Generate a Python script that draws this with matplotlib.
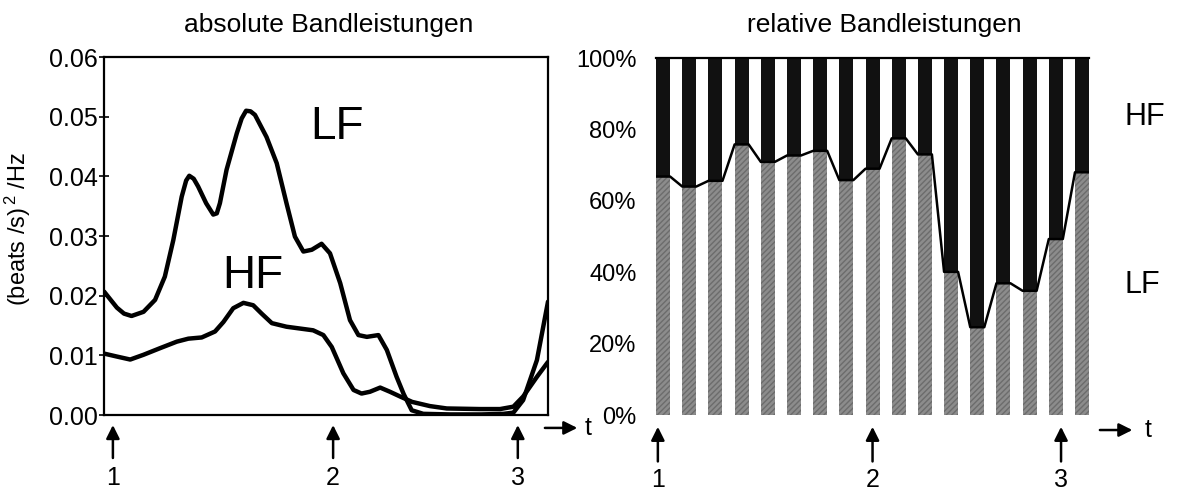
import matplotlib
matplotlib.use("Agg")
import matplotlib.pyplot as plt
import numpy as np

plt.rcParams['font.family'] = ['Liberation Sans', 'DejaVu Sans']
plt.rcParams['mathtext.default'] = 'regular'

# ----
# Left panel: absolute band power
# ----
lf_t = [0, 1.5, 2.9, 4.5, 6.2, 8.9, 11.5, 13.7, 15.6, 17.5, 18.5, 19.2, 20.2, 21.2,
        23.0, 24.6, 25.4, 26.1, 27.6, 29.9, 31.0, 32.0, 33.0, 34.0, 36.6, 38.9,
        41.1, 43.0, 44.9, 46.8, 49.0, 50.9, 53.2, 55.4, 57.3, 59.2, 61.8, 63.7,
        65.9, 67.5, 69.3, 71.9, 78.0, 85.0, 90.0, 92.2, 94.4, 97.5, 100]
lf_val = [0.0207, 0.0193, 0.0180, 0.0170, 0.0166, 0.0173, 0.0193, 0.0232, 0.0293,
          0.0366, 0.0393, 0.0401, 0.0396, 0.0383, 0.0355, 0.0336, 0.0338, 0.0355,
          0.0411, 0.0472, 0.0497, 0.0510, 0.0509, 0.0503, 0.0466, 0.0422, 0.0355,
          0.0299, 0.0274, 0.0277, 0.0287, 0.0271, 0.0221, 0.0159, 0.0134, 0.0131,
          0.0134, 0.0109, 0.0064, 0.0035, 0.0008, 0.0002, 0.0001, 0.0001, 0.0002,
          0.0004, 0.0025, 0.0092, 0.0190]

hf_t = [0, 2.9, 5.9, 8.9, 12.6, 16.4, 19.0, 22.0, 25.0, 26.9, 29.1, 31.4, 33.6,
        35.5, 37.8, 41.1, 44.1, 47.1, 49.4, 51.3, 53.9, 56.2, 58.0, 59.9, 62.2,
        64.4, 66.7, 69.4, 73.4, 77.2, 84.7, 89.2, 92.2, 94.4, 97.5, 100]
hf_val = [0.0103, 0.0098, 0.0093, 0.0101, 0.0112, 0.0123, 0.0128, 0.0130, 0.0140,
          0.0156, 0.0179, 0.0188, 0.0184, 0.0170, 0.0154, 0.0148, 0.0145, 0.0142,
          0.0134, 0.0114, 0.0070, 0.0042, 0.0036, 0.0039, 0.0046, 0.0039, 0.0031,
          0.0022, 0.0015, 0.0011, 0.0010, 0.0010, 0.0014, 0.0031, 0.0064, 0.0089]

left_events = [2.0, 51.6, 93.2]
left_event_labels = ["1", "2", "3"]
left_yticks = [0.00, 0.01, 0.02, 0.03, 0.04, 0.05, 0.06]

# ----
# Right panel: relative band power (LF share in %, HF is the rest)
# ----
lf_pct = [66.8, 64.0, 65.6, 75.8, 70.9, 72.7, 74.0, 65.8, 69.0, 77.5, 73.0,
          40.1, 24.6, 36.9, 34.8, 49.3, 68.0]
right_events = [-0.2, 8.0, 15.2]
right_event_labels = ["1", "2", "3"]
right_yticks = [0, 20, 40, 60, 80, 100]

fig = plt.figure(figsize=(11.78, 4.90), dpi=100)
ax1 = fig.add_axes([0.0883, 0.153, 0.3769, 0.7306])
ax2 = fig.add_axes([0.5569, 0.153, 0.3676, 0.7286])

# ---- left
for tt, vv in [(lf_t, lf_val), (hf_t, hf_val)]:
    ax1.plot(tt, vv, color="black", lw=3.2, solid_joinstyle="round", solid_capstyle="round")
ax1.set_xlim(0, 100)
ax1.set_ylim(0, 0.06)
ax1.set_yticks(left_yticks)
ax1.set_yticklabels([f"{v:.2f}" for v in left_yticks], fontsize=18)
ax1.tick_params(axis="y", direction="inout", length=7, width=1.2, pad=1)
ax1.set_xticks([])
for s in ax1.spines.values():
    s.set_linewidth(1.6)
ax1.set_ylabel("(beats /s)$^{\\,2}$ /Hz", fontsize=17)
ax1.yaxis.set_label_coords(-0.16, 0.52)
ax1.text(52.5, 0.0483, "LF", fontsize=33, ha="center", va="center",
         family=["Liberation Sans Narrow", "Liberation Sans"])
ax1.text(33.6, 0.0233, "HF", fontsize=33, ha="center", va="center",
         family=["Liberation Sans Narrow", "Liberation Sans"])

# ---- right
x = np.arange(len(lf_pct))
bw = 0.535
hf_pct = [100 - v for v in lf_pct]
ax2.bar(x, lf_pct, width=bw, facecolor="#8c8c8c", edgecolor="#6c6c6c", lw=0, hatch="//////")
ax2.bar(x, hf_pct, width=bw, bottom=lf_pct, color="#111111", lw=0)
line_x, line_y = [], []
for xi, v in zip(x, lf_pct):
    line_x += [xi - bw / 2, xi + bw / 2]
    line_y += [v, v]
ax2.plot(line_x, line_y, color="black", lw=1.8)
ax2.set_xlim(-0.27, len(lf_pct) - 1 + 0.27)
ax2.set_ylim(0, 100)
ax2.set_yticks(right_yticks)
ax2.set_yticklabels([f"{v}%" for v in right_yticks], fontsize=17)
ax2.tick_params(axis="y", length=0, pad=14)
ax2.set_xticks([])
for k in ["left", "right", "bottom"]:
    ax2.spines[k].set_visible(False)
ax2.spines["top"].set_linewidth(1.6)

# ---- event arrows and numbers below both panels
def events(ax, xs, labels, head_y, tail_y, num_y):
    for xv, lab in zip(xs, labels):
        ax.annotate("", xy=(xv, head_y), xytext=(xv, tail_y),
                    xycoords=("data", "axes fraction"), textcoords=("data", "axes fraction"),
                    arrowprops=dict(arrowstyle="-|>", color="black", lw=1.8, mutation_scale=20,
                                    shrinkA=0, shrinkB=0), annotation_clip=False)
        ax.text(xv, num_y, lab, transform=ax.get_xaxis_transform(), ha="center",
                va="center", fontsize=18, clip_on=False)

events(ax1, left_events, left_event_labels, -0.028, -0.12, -0.176)
events(ax2, right_events, right_event_labels, -0.033, -0.13, -0.182)

# time arrows
for ax, x0, x1, xt, yy in [(ax1, 0.993, 1.066, 1.09, -0.036), (ax2, 1.025, 1.10, 1.136, -0.042)]:
    ax.annotate("", xy=(x1, yy), xytext=(x0, yy), xycoords="axes fraction",
                arrowprops=dict(arrowstyle="-|>", color="black", lw=1.8, mutation_scale=20,
                                shrinkA=0, shrinkB=0), annotation_clip=False)
    ax.text(xt, yy, "t", transform=ax.transAxes, ha="center", va="center", fontsize=18)

# titles and band labels of the right panel
fig.text(329 / 1178, 1 - 25 / 490, "absolute Bandleistungen", ha="center", va="center", fontsize=19)
fig.text(884 / 1178, 1 - 25 / 490, "relative Bandleistungen", ha="center", va="center", fontsize=19)
fig.text(1145 / 1178, 1 - 117 / 490, "HF", ha="center", va="center", fontsize=22)
fig.text(1142 / 1178, 1 - 285 / 490, "LF", ha="center", va="center", fontsize=22)

fig.savefig("out.png", dpi=100)
